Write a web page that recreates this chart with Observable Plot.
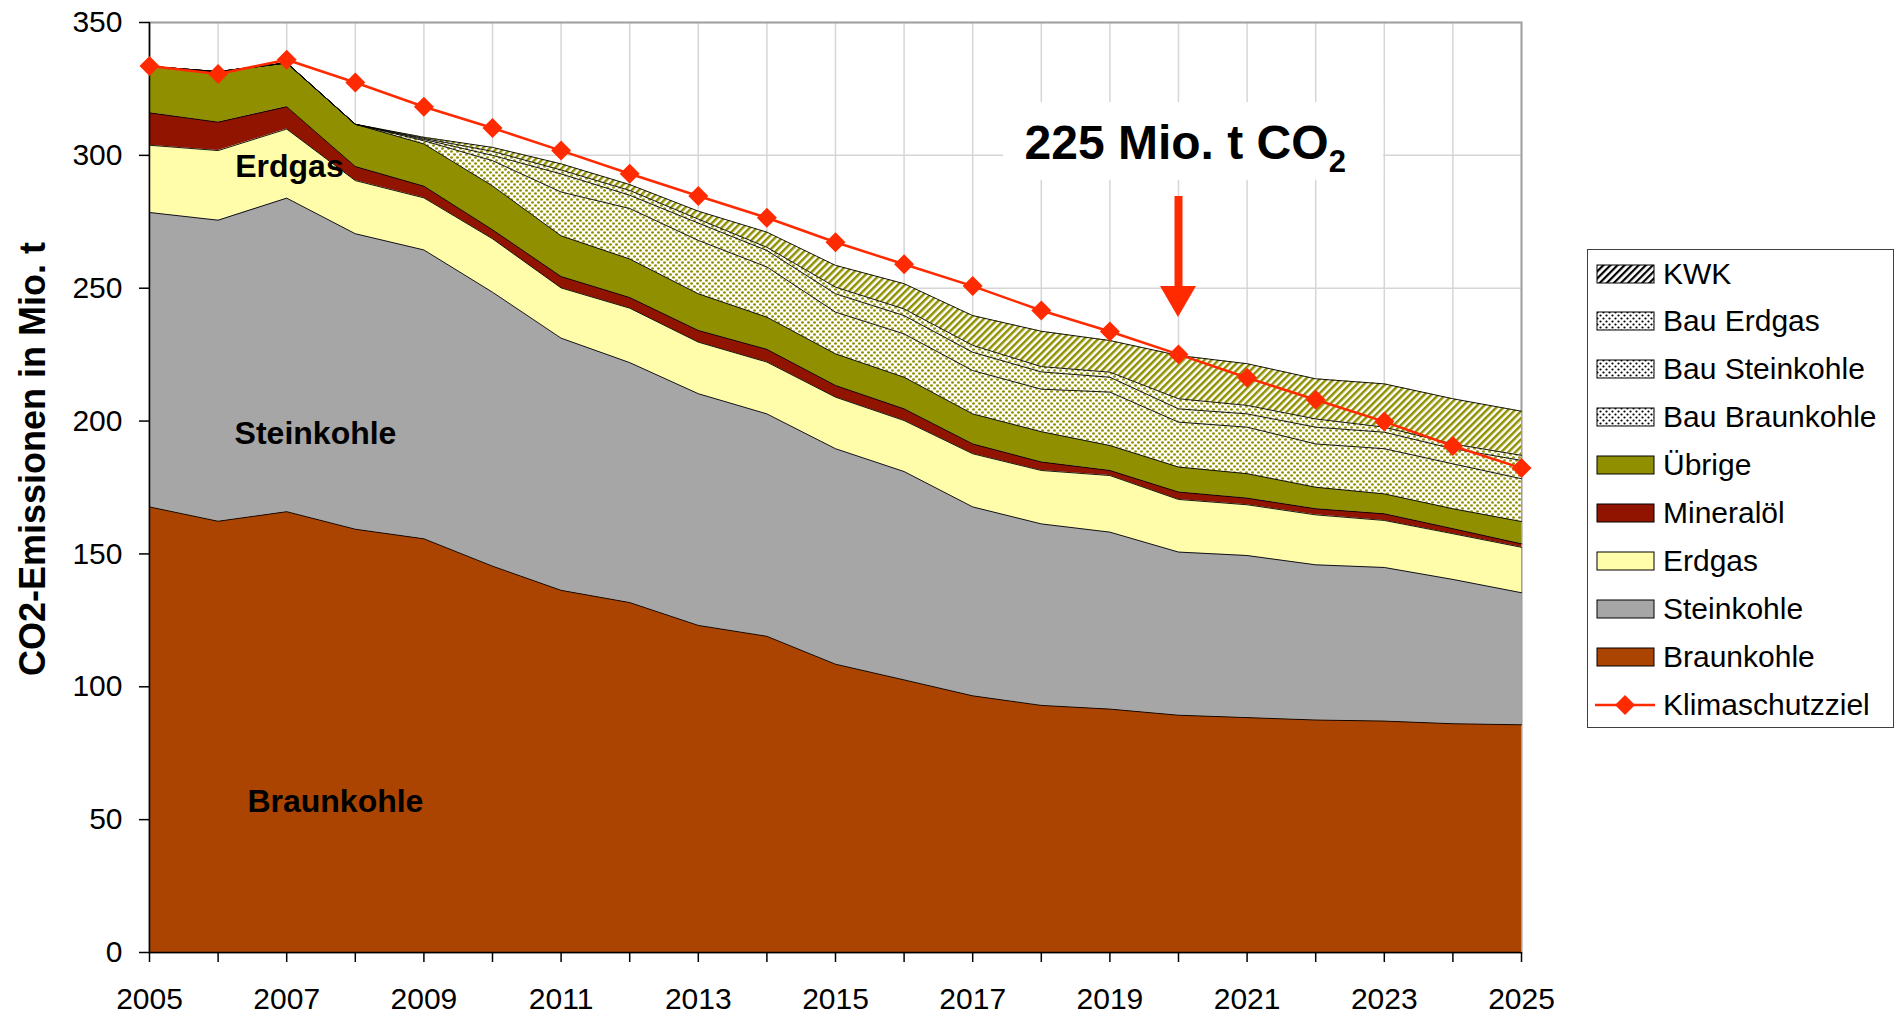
<!DOCTYPE html>
<html><head><meta charset="utf-8">
<script src="https://cdn.jsdelivr.net/npm/d3@7"></script>
<script src="https://cdn.jsdelivr.net/npm/@observablehq/plot@0.6"></script>
<style>
body{margin:0;background:#fff;font-family:"Liberation Sans",Arial,sans-serif;}
#wrap{position:relative;width:1899px;height:1015px;overflow:hidden;}
#legend{position:absolute;left:1587px;top:249px;width:307px;height:479px;border:1.5px solid #404040;box-sizing:border-box;background:#fff;}
.row{position:absolute;left:0;width:300px;height:48px;}
.row svg{position:absolute;left:8px;top:14px;}
.row span{position:absolute;left:75px;top:0;line-height:48px;font-size:30px;color:#000;white-space:nowrap;}
#ytitle{position:absolute;left:33px;top:459px;transform:translate(-50%,-50%) rotate(-90deg);font-weight:bold;font-size:36px;white-space:nowrap;color:#000;line-height:40px;}
</style></head>
<body>
<svg width="0" height="0" style="position:absolute">
<defs>
 <pattern id="dots" width="6" height="6" patternUnits="userSpaceOnUse"><rect width="6" height="6" fill="#fff"/><ellipse cx="1.5" cy="1.5" rx="1.5" ry="1.2" fill="#8f8f00"/><ellipse cx="4.5" cy="4.5" rx="1.5" ry="1.2" fill="#8f8f00"/></pattern>
 <pattern id="stripes" width="5" height="5" patternUnits="userSpaceOnUse" patternTransform="rotate(45)"><rect width="5" height="5" fill="#fff"/><rect width="2.5" height="5" fill="#8f8f00"/></pattern>
 <pattern id="dotsK" width="6" height="6" patternUnits="userSpaceOnUse"><rect width="6" height="6" fill="#fff"/><circle cx="1.5" cy="1.5" r="1.1" fill="#000"/><circle cx="4.5" cy="4.5" r="1.1" fill="#000"/></pattern>
 <pattern id="stripesK" width="5" height="5" patternUnits="userSpaceOnUse" patternTransform="rotate(45)"><rect width="5" height="5" fill="#fff"/><rect width="2.2" height="5" fill="#000"/></pattern>
</defs>
</svg>
<div id="wrap"><div id="legend"></div><div id="ytitle">CO2-Emissionen in Mio. t</div></div>
<script>
const years = [2005,2006,2007,2008,2009,2010,2011,2012,2013,2014,2015,2016,2017,2018,2019,2020,2021,2022,2023,2024,2025];
const xTickLabels = [2005,2007,2009,2011,2013,2015,2017,2019,2021,2023,2025];
const yTicks = [0,50,100,150,200,250,300,350];

const braunkohle    = [167.7,162.3,165.9,159.3,155.7,145.4,136.3,131.7,123.1,119.0,108.5,102.6,96.6,93.0,91.6,89.3,88.4,87.5,87.1,86.1,85.7];
const steinkohle    = [110.8,113.3,118.0,111.2,108.7,103.1,94.9,90.3,87.2,83.7,81.1,78.4,71.1,68.3,66.6,61.4,61.0,58.4,57.8,54.3,49.7];
const erdgas        = [25.3,26.2,26.0,20.0,19.6,20.1,18.9,20.5,19.4,19.5,19.4,19.2,20.0,20.1,21.3,19.8,19.1,18.8,17.7,17.2,17.1];
const mineraloel    = [12.2,10.7,8.4,5.3,4.4,3.4,4.3,4.0,4.4,4.8,4.4,4.4,3.7,3.2,1.9,2.8,2.5,2.3,2.5,1.9,1.3];
const uebrige       = [17.5,19.0,16.5,15.9,15.9,16.5,15.3,14.5,13.8,12.1,11.9,11.9,11.3,11.4,9.4,9.4,9.2,8.1,7.5,7.5,8.4];
const bauBraunkohle = [0,0,0,0,1.2,9.5,16.5,19.0,20.1,18.9,15.7,16.3,16.3,16.0,20.1,16.9,17.5,16.3,17.0,16.9,16.1];
const bauSteinkohle = [0,0,0,0,0.5,2.0,6.8,5.0,6.5,6.2,6.9,6.9,6.9,6.5,5.6,5.0,5.0,6.3,6.2,5.7,6.9];
const bauErdgas     = [0,0,0,0,0.4,1.5,1.5,1.8,1.5,1.2,2.5,2.5,2.6,2.0,1.9,3.8,3.2,3.1,1.9,1.8,1.9];
const kwk           = [0,0,0,0,0.4,1.5,2.3,2.2,3.0,5.7,8.2,9.5,11.2,13.3,11.9,16.3,15.7,15.1,16.3,17.0,16.6];
const klimaschutzziel = [333.6,330.6,336.0,327.4,318.3,310.3,301.8,293.1,284.7,276.5,267.3,259.0,250.8,241.6,233.7,225.1,216.3,208.0,199.8,190.6,182.3];

const seriesNames = ["Braunkohle","Steinkohle","Erdgas","Mineralöl","Übrige","Bau Braunkohle","Bau Steinkohle","Bau Erdgas","KWK"];
const seriesValues = [braunkohle,steinkohle,erdgas,mineraloel,uebrige,bauBraunkohle,bauSteinkohle,bauErdgas,kwk];
const fills = {"Braunkohle":"#aa4400","Steinkohle":"#a6a6a6","Erdgas":"#fffcaa","Mineralöl":"#901400","Übrige":"#8f8f00",
  "Bau Braunkohle":"url(#dots)","Bau Steinkohle":"url(#dots)","Bau Erdgas":"url(#dots)","KWK":"url(#stripes)"};
const legendFills = {"Braunkohle":"#aa4400","Steinkohle":"#a6a6a6","Erdgas":"#fffcaa","Mineralöl":"#901400","Übrige":"#8f8f00",
  "Bau Braunkohle":"url(#dotsK)","Bau Steinkohle":"url(#dotsK)","Bau Erdgas":"url(#dotsK)","KWK":"url(#stripesK)"};
const legendOrder = ["KWK","Bau Erdgas","Bau Steinkohle","Bau Braunkohle","Übrige","Mineralöl","Erdgas","Steinkohle","Braunkohle","Klimaschutzziel"];

// annotations
const areaLabels = [
  {text:"Erdgas", year:2007.04, value:295.8},
  {text:"Steinkohle", year:2007.42, value:195.1},
  {text:"Braunkohle", year:2007.71, value:56.6}
];
const targetLabel = [{text:"225 Mio. t CO", year:2017.755, value:298.8}];
const targetSub = [{text:"2", year:2022.19, value:293.7}];
const targetBox = [{x1:2017.45, x2:2022.99, y1:290.6, y2:319.9}];
const arrowStem = [{year:2020, y1:284.5, y2:248}];
const arrowHead = [{year:2019.738, y1:250.6, y2:250.6},{year:2020, y1:239.0, y2:250.6},{year:2020.262, y1:250.6, y2:250.6}];

const stacked = [];
const base = years.map(() => 0);
seriesNames.forEach((name, i) => {
  seriesValues[i].forEach((v, j) => {
    stacked.push({series:name, year:years[j], y1:base[j], y2:base[j] + v});
    base[j] += v;
  });
});
const ziel = years.map((yr, j) => ({year:yr, value:klimaschutzziel[j]}));

const red = "#ff2a00";
const chart = Plot.plot({
  width:1899, height:1015,
  marginLeft:149, marginRight:378, marginTop:22, marginBottom:63,
  style:{fontFamily:"'Liberation Sans', Arial, sans-serif", fontSize:"30px", background:"#fff", color:"#000"},
  x:{domain:[2005,2025]},
  y:{domain:[0,350]},
  marks:[
    Plot.gridX(years, {stroke:"#d6d6d6", strokeOpacity:1, strokeWidth:1.5}),
    Plot.gridY(yTicks, {stroke:"#d6d6d6", strokeOpacity:1, strokeWidth:1.5}),
    Plot.frame({stroke:"#a0a0a0", strokeWidth:2}),
    Plot.rect(targetBox, {x1:"x1", x2:"x2", y1:"y1", y2:"y2", fill:"#fff"}),
    ...seriesNames.map(name => Plot.areaY(stacked.filter(d => d.series === name), {x:"year", y1:"y1", y2:"y2", fill:fills[name]})),
    Plot.lineY(stacked, {x:"year", y:"y2", z:"series", stroke:"#000", strokeWidth:0.9}),
    Plot.ruleX([2005], {stroke:"#000", strokeWidth:1.5}),
    Plot.ruleY([0], {stroke:"#000", strokeWidth:1.5}),
    Plot.lineY(ziel, {x:"year", y:"value", stroke:red, strokeWidth:2.5}),
    Plot.dot(ziel, {x:"year", y:"value", symbol:"diamond2", r:9, fill:red}),
    Plot.ruleX(arrowStem, {x:"year", y1:"y1", y2:"y2", stroke:red, strokeWidth:8}),
    Plot.areaY(arrowHead, {x:"year", y1:"y1", y2:"y2", fill:red}),
    Plot.axisX(years, {tickSize:10, tickPadding:25, strokeWidth:1.5, fontSize:30, label:null,
      tickFormat: d => xTickLabels.includes(d) ? String(d) : ""}),
    Plot.axisY(yTicks, {tickSize:10, tickPadding:17, strokeWidth:1.5, fontSize:30, label:null, tickFormat: d => String(d)}),
    Plot.text(areaLabels, {x:"year", y:"value", text:"text", fontSize:32, fontWeight:"bold", fill:"#000"}),
    Plot.text(targetLabel, {x:"year", y:"value", text:"text", fontSize:48, fontWeight:"bold", fill:"#000", textAnchor:"start", lineAnchor:"bottom"}),
    Plot.text(targetSub, {x:"year", y:"value", text:"text", fontSize:31, fontWeight:"bold", fill:"#000", textAnchor:"start", lineAnchor:"bottom"})
  ]
});
document.getElementById("wrap").prepend(chart);

const legend = document.getElementById("legend");
legendOrder.forEach((name, i) => {
  const row = document.createElement("div");
  row.className = "row";
  row.style.top = (-0.5 + 47.9 * i) + "px";
  let sw;
  if (name === "Klimaschutzziel") {
    sw = `<svg width="62" height="22" style="top:13px;left:6px"><line x1="1" y1="11" x2="61" y2="11" stroke="${red}" stroke-width="2.5"/><path d="M31 1 L41 11 L31 21 L21 11 Z" fill="${red}"/></svg>`;
  } else {
    sw = `<svg width="59" height="20"><rect x="1" y="1" width="57" height="18" fill="${legendFills[name]}" stroke="#000" stroke-width="1"/></svg>`;
  }
  row.innerHTML = sw + `<span>${name}</span>`;
  legend.appendChild(row);
});
</script>
</body></html>
